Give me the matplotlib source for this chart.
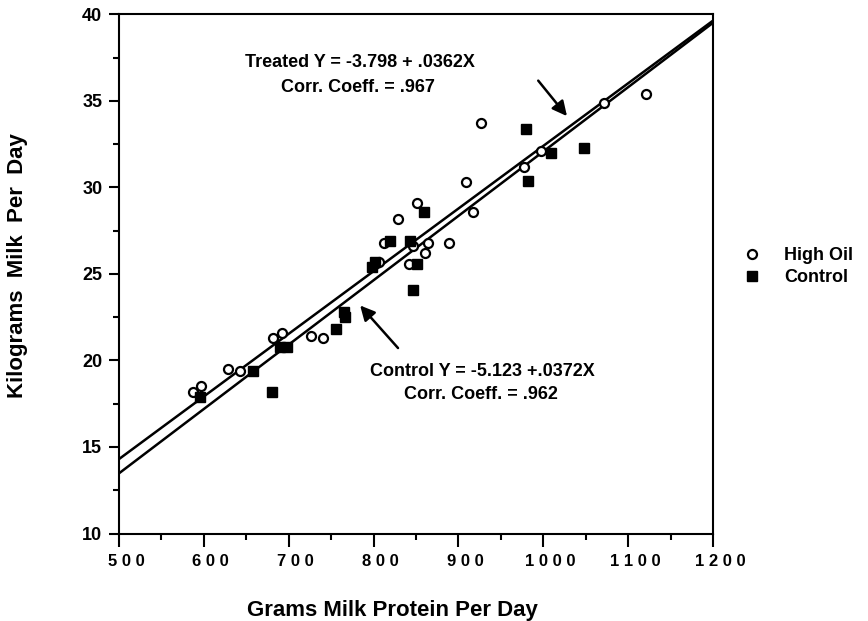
import matplotlib.pyplot as plt
from matplotlib.ticker import MultipleLocator, FixedLocator, FixedFormatter
import matplotlib.transforms as mtransforms

plt.rcParams['font.family'] = ['Liberation Sans', 'DejaVu Sans']
plt.rcParams['font.weight'] = 'bold'
plt.rcParams['axes.labelweight'] = 'bold'

#High oil (treated) cows: grams milk protein vs kg milk per day
oil_x = [587, 597, 629, 643, 682, 692, 726, 741, 806, 812, 829, 842, 846, 851,
         861, 864, 889, 909, 917, 927, 977, 997, 1072, 1121]
oil_y = [18.2, 18.5, 19.5, 19.4, 21.3, 21.6, 21.4, 21.3, 25.7, 26.8, 28.2, 25.6,
         26.6, 29.1, 26.2, 26.8, 26.8, 30.3, 28.6, 33.7, 31.2, 32.1, 34.9, 35.4]

#Control cows
ctrl_x = [595, 658, 680, 690, 698, 756, 765, 766, 798, 802, 819, 843, 846, 851,
          859, 980, 982, 1009, 1048]
ctrl_y = [17.9, 19.4, 18.2, 20.8, 20.8, 21.8, 22.8, 22.5, 25.4, 25.7, 26.9, 26.9,
          24.1, 25.6, 28.6, 33.4, 30.4, 32.0, 32.3]

#Regression lines (intercept, slope)
treated_fit = (-3.798, 0.0362)
control_fit = (-5.123, 0.0372)
x_range = [500, 1200]

x_ticks = [500, 600, 700, 800, 900, 1000, 1100, 1200]
x_tick_labels = ['5 0 0', '6 0 0', '7 0 0', '8 0 0', '9 0 0', '1 0 0 0', '1 1 0 0', '1 2 0 0']
y_ticks = [10, 15, 20, 25, 30, 35, 40]

fig = plt.figure(figsize=(8.68, 6.21), dpi=100)
ax = fig.add_axes([0.1371, 0.1409, 0.6843, 0.8358])

#fitted lines
for b0, b1 in [treated_fit, control_fit]:
    ax.plot(x_range, [b0 + b1 * x for x in x_range], color='black', lw=1.8, zorder=2)

ax.plot(oil_x, oil_y, 'o', mfc='white', mec='black', mew=1.6, ms=6.5,
        label='High Oil', zorder=3)
ax.plot(ctrl_x, ctrl_y, 's', mfc='black', mec='black', ms=6.5,
        label='Control', zorder=3)

ax.set_xlim(500, 1200)
ax.set_ylim(10, 40)

#ticks
ax.xaxis.set_major_locator(FixedLocator(x_ticks))
ax.xaxis.set_major_formatter(FixedFormatter(x_tick_labels))
ax.xaxis.set_minor_locator(MultipleLocator(50))
ax.yaxis.set_major_locator(FixedLocator(y_ticks))
ax.yaxis.set_minor_locator(MultipleLocator(2.5))
ax.tick_params(axis='x', which='major', direction='out', length=9, width=1.5,
               labelsize=12, pad=6)
ax.tick_params(axis='x', which='minor', direction='out', length=4, width=1.5)
ax.tick_params(axis='y', which='major', direction='out', length=7, width=1.5,
               labelsize=13, pad=5)
ax.tick_params(axis='y', which='minor', direction='out', length=4, width=1.5)
offset = mtransforms.ScaledTranslation(7 / 100, 0, fig.dpi_scale_trans)
for lab in ax.get_xticklabels():
    lab.set_transform(lab.get_transform() + offset)
for sp in ax.spines.values():
    sp.set_linewidth(1.5)

ax.set_xlabel('Grams Milk Protein Per Day', fontsize=16)
ax.xaxis.set_label_coords(0.461, -0.128)
ax.set_ylabel('Kilograms  Milk  Per  Day', fontsize=16)
ax.yaxis.set_label_coords(-0.153, 0.517)

#equation notes with arrows
ax.text(784, 37.2, 'Treated Y = -3.798 + .0362X', ha='center', va='center', fontsize=13)
ax.text(782, 35.75, 'Corr. Coeff. = .967', ha='center', va='center', fontsize=13)
ax.text(928, 19.38, 'Control Y = -5.123 +.0372X', ha='center', va='center', fontsize=13)
ax.text(926, 18.03, 'Corr. Coeff. = .962', ha='center', va='center', fontsize=13)
ax.annotate('', xy=(1030, 34.0), xytext=(992, 36.3),
            arrowprops=dict(arrowstyle='-|>', lw=1.8, color='black', mutation_scale=22))
ax.annotate('', xy=(782, 23.3), xytext=(831, 20.6),
            arrowprops=dict(arrowstyle='-|>', lw=1.8, color='black', mutation_scale=22))

ax.legend(loc='center left', bbox_to_anchor=(1.05, 0.514), frameon=False,
          borderpad=0, borderaxespad=0, handlelength=1.0, handletextpad=1.3,
          labelspacing=0.25, fontsize=13)

plt.savefig('out.png', dpi=100)
